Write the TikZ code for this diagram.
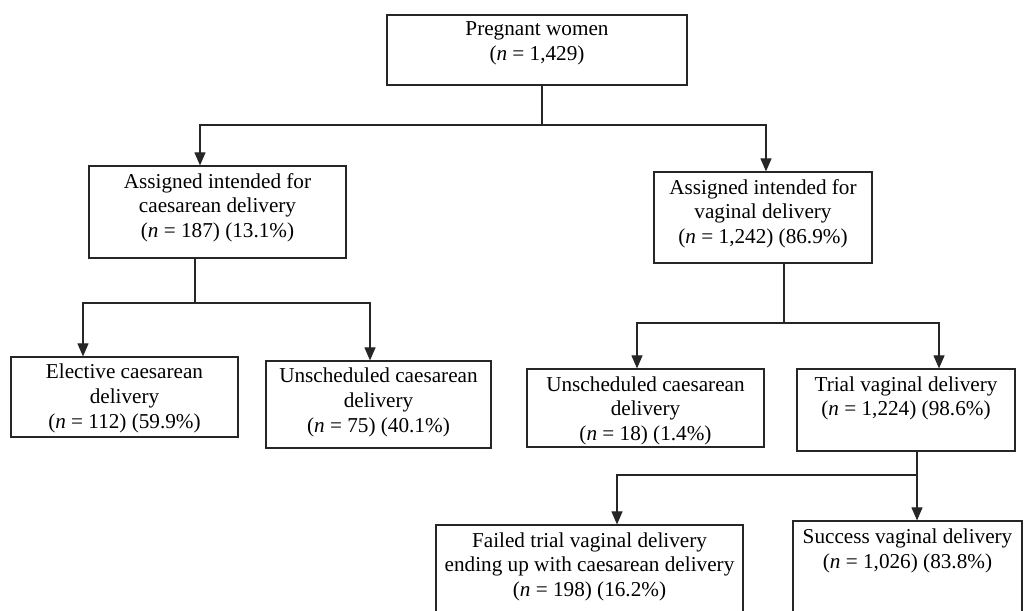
\documentclass[tikz,border=0pt]{standalone}
\usepackage{fontspec}
\setmainfont{Liberation Serif}
\usetikzlibrary{arrows.meta}
\tikzset{
  box/.style={draw=black!85, line width=1.2pt, inner sep=0pt, rectangle},
  lbl/.style={inner sep=0pt, align=center, anchor=north, font=\fontsize{21.2}{24.6}\selectfont},
  conn/.style={draw=black!85, line width=1.1pt},
  arr/.style={conn, -{Triangle[length=13pt,width=11pt]}},
}
\begin{document}
\begin{tikzpicture}[x=1pt,y=-1pt]
\clip (0,0) rectangle (1024,610);
\fill[white] (0,0) rectangle (1024,610);
% boxes
\node[box, minimum width=300pt, minimum height=70pt] (top) at (537,50) {};
\node[box, minimum width=257pt, minimum height=92pt] (A) at (217.5,212) {};
\node[box, minimum width=218pt, minimum height=91pt] (B) at (763,217.5) {};
\node[box, minimum width=227pt, minimum height=80pt] (E) at (124.5,397) {};
\node[box, minimum width=225pt, minimum height=87pt] (U1) at (378.5,404.5) {};
\node[box, minimum width=237pt, minimum height=78pt] (U2) at (645.5,408) {};
\node[box, minimum width=218pt, minimum height=82pt] (T) at (906,410) {};
\node[box, minimum width=307pt, minimum height=110pt] (F) at (589.5,580) {};
\node[box, minimum width=229pt, minimum height=110pt] (S) at (907.5,576) {};
% texts
\node[lbl] (topt) at ([yshift=-7.5pt]top.north) {Pregnant women\\(\textit{n} = 1,429)};
\node[lbl] (At) at ([yshift=-7.5pt]A.north) {Assigned intended for\\caesarean delivery\\(\textit{n} = 187) (13.1\%)};
\node[lbl] (Bt) at ([yshift=-7.5pt]B.north) {Assigned intended for\\vaginal delivery\\(\textit{n} = 1,242) (86.9\%)};
\node[lbl] (Et) at ([yshift=-7.5pt]E.north) {Elective caesarean\\delivery\\(\textit{n} = 112) (59.9\%)};
\node[lbl] (U1t) at ([yshift=-7.5pt]U1.north) {Unscheduled caesarean\\delivery\\(\textit{n} = 75) (40.1\%)};
\node[lbl] (U2t) at ([yshift=-8pt]U2.north) {Unscheduled caesarean\\delivery\\(\textit{n} = 18) (1.4\%)};
\node[lbl] (Tt) at ([yshift=-8pt]T.north) {Trial vaginal delivery\\(\textit{n} = 1,224) (98.6\%)};
\node[lbl] (Ft) at ([yshift=-8pt]F.north) {Failed trial vaginal delivery\\ending up with caesarean delivery\\(\textit{n} = 198) (16.2\%)};
\node[lbl] (St) at ([yshift=-8.5pt]S.north) {Success vaginal delivery\\(\textit{n} = 1,026) (83.8\%)};
% junction coordinates
\coordinate (j1) at (542,125);
\coordinate (j2) at (195,303);
\coordinate (j3) at (784,323);
\coordinate (j4) at (917,475);
% connectors
\draw[conn] (top.south -| j1) -- (j1);
\draw[arr] (j1) -| ([xshift=-17.5pt]A.north);
\draw[arr] (j1) -| ([xshift=3pt]B.north);
\draw[conn] (A.south -| j2) -- (j2);
\draw[arr] (j2) -| ([xshift=-41.5pt]E.north);
\draw[arr] (j2) -| ([xshift=-8.5pt]U1.north);
\draw[conn] (B.south -| j3) -- (j3);
\draw[arr] (j3) -| ([xshift=-8.5pt]U2.north);
\draw[arr] (j3) -| ([xshift=33pt]T.north);
\draw[conn] (T.south -| j4) -- (j4);
\draw[arr] (j4) -| ([xshift=27.5pt]F.north);
\draw[arr] (j4) -- (S.north -| j4);
\end{tikzpicture}
\end{document}
